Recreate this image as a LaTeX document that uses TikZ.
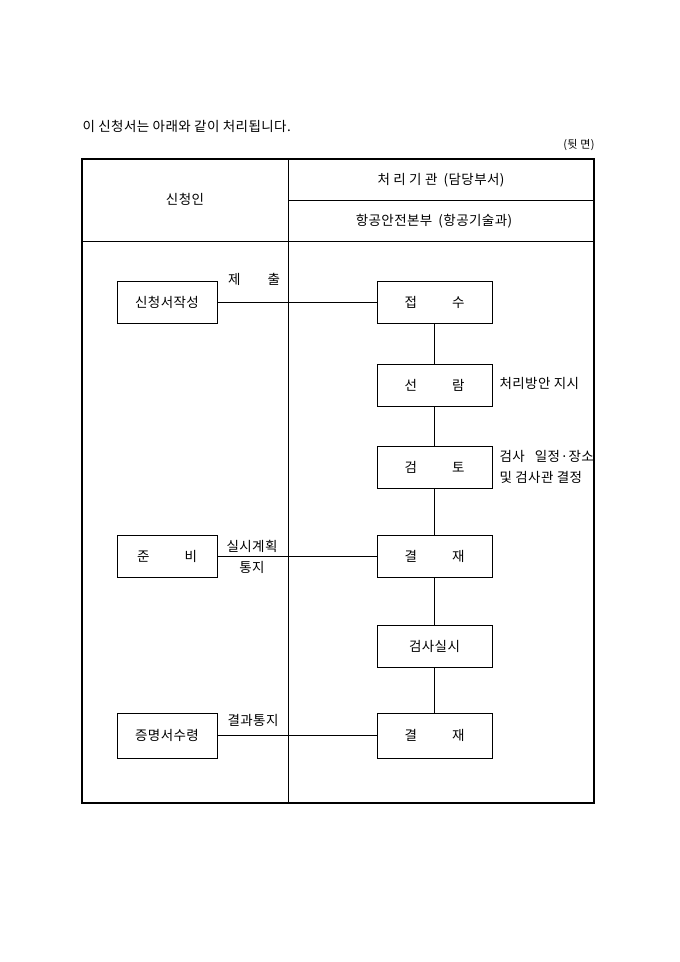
\documentclass[tikz,border=0pt]{standalone}
\usepackage{fontspec}
\setmainfont[LetterSpace=3]{Noto Sans CJK KR}
\begin{document}
\begin{tikzpicture}[x=1pt, y=-1pt, font=\fontsize{13.5}{16}\selectfont,
   stepbox/.style={draw, minimum height=42pt, inner sep=0pt},
   leftbox/.style={stepbox, minimum width=100pt},
   rightbox/.style={stepbox, minimum width=115pt}]
   \useasboundingbox (0,0) rectangle (680,962);
   % frame and header
   \draw [line width=1.6pt] (82,159) rectangle (594,803);
   \draw (288,159) -- (288,803);
   \draw (288,200) -- (594,200);
   \draw (82,241) -- (594,241);
   \node [anchor=west] (title) at (79,126) {이 신청서는 아래와 같이 처리됩니다.};
   \node [anchor=east, font=\fontsize{11}{13}\selectfont] (side) at (598,145) {(뒷 면)};
   \node (who) at (185,199) {신청인};
   \node (org) at (441,180) {처 리 기 관 \hspace{0.2em}(담당부서)};
   \node (dept) at (434,221) {항공안전본부 \hspace{0.2em}(항공기술과)};
   % applicant
   \node [leftbox] (write) at (167,302.5) {신청서작성};
   \node [leftbox] (prep) at (167,556.5) {준\hspace{2.6em}비};
   \node [leftbox, minimum height=45pt] (recv) at (167,735.5) {증명서수령};
   % office
   \node [rightbox] (accept) at (434.5,302.5) {접\hspace{2.6em}수};
   \node [rightbox] (read) at (434.5,385.5) {선\hspace{2.6em}람};
   \node [rightbox] (check) at (434.5,467.5) {검\hspace{2.6em}토};
   \node [rightbox] (sign1) at (434.5,556.5) {결\hspace{2.6em}재};
   \node [rightbox] (test) at (434.5,646) {검사실시};
   \node [rightbox, minimum height=45pt] (sign2) at (434.5,735.5) {결\hspace{2.6em}재};
   % connectors
   \draw (write) -- (accept);
   \draw (prep) -- (sign1);
   \draw (recv) -- (sign2);
   \draw (accept) -- (read) -- (check) -- (sign1) -- (test) -- (sign2);
   % labels
   \node (submit) at (254,279) {제\hspace{2em}출};
   \node (plan) at (252,546) {실시계획};
   \node (note) at (252,567) {통지};
   \node (result) at (253,720) {결과통지};
   \node [anchor=west] (order) at (496,383) {처리방안 지시};
   \node [anchor=west] (sched) at (496,456) {검사\hspace{0.75em}일정·장소};
   \node [anchor=west] (insp) at (496,477) {및 검사관 결정};
\end{tikzpicture}
\end{document}
